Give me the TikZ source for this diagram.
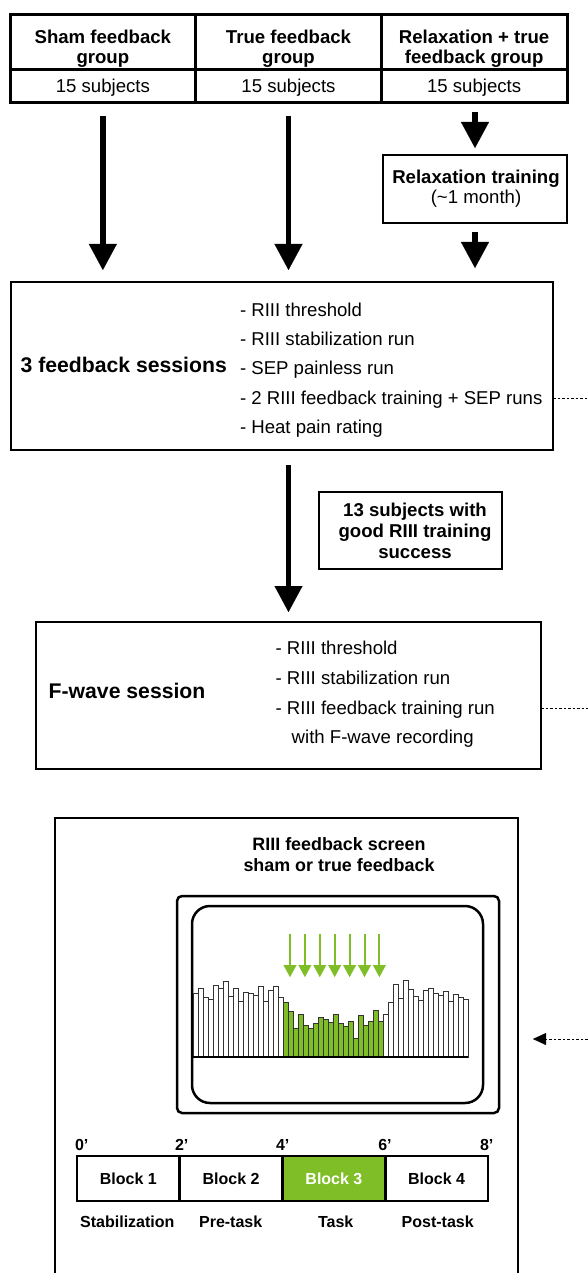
\documentclass[tikz,border=0pt]{standalone}
\usepackage{fontspec}
\setmainfont{Liberation Sans}
\usetikzlibrary{arrows.meta}
\definecolor{bargreen}{RGB}{128,190,40}
\begin{document}
\begin{tikzpicture}[x=1pt,y=-1pt,
  every node/.style={inner sep=0pt, outer sep=0pt},
  frame/.style={draw, line width=2.5pt},
  tframe/.style={draw, line width=3pt},
  tb/.style={font=\bfseries\fontsize{18.6}{21}\selectfont, anchor=base},
  tr/.style={font=\fontsize{18.6}{21}\selectfont, anchor=base},
  tbig/.style={font=\bfseries\fontsize{21.2}{24}\selectfont, anchor=base west},
  tlist/.style={font=\fontsize{18.6}{21}\selectfont, anchor=base west},
  tscr/.style={font=\bfseries\fontsize{17.9}{21}\selectfont, anchor=base},
  tsm/.style={font=\bfseries\fontsize{16}{19}\selectfont, anchor=base},
  blockbox/.style={draw, line width=2.5pt, minimum width=102.75pt, minimum height=45pt,
    font=\bfseries\fontsize{16}{19}\selectfont},
  bigarr/.style={line width=5.5pt, -{Triangle[length=26pt,width=28pt,line width=0.1pt]}},
  dotline/.style={line width=1pt, dash pattern=on 2.5pt off 2pt},
  garr/.style={draw=bargreen, line width=2pt, -{Triangle[length=12pt,width=13pt,line width=0.1pt]}},
  barw/.style={draw=black!80, line width=0.9pt, fill=white},
  barg/.style={draw=black!80, line width=0.9pt, fill=bargreen},
]
\useasboundingbox (0,0) rectangle (588,1273);
\clip (0,0) rectangle (588,1273);
\fill[white] (0,0) rectangle (588,1273);

% ---------- top table ----------
\node[tframe, minimum width=185.7pt, minimum height=55pt] (hS) at (102.85,42.5) {};
\node[tframe, minimum width=185.7pt, minimum height=55pt] (hT) at (288.5,42.5) {};
\node[tframe, minimum width=185.7pt, minimum height=55pt] (hR) at (474.15,42.5) {};
\node[tframe, minimum width=185.7pt, minimum height=33pt] (nS) at (102.85,86.5) {};
\node[tframe, minimum width=185.7pt, minimum height=33pt] (nT) at (288.5,86.5) {};
\node[tframe, minimum width=185.7pt, minimum height=33pt] (nR) at (474.15,86.5) {};

\node[tb] (tS1) at (102.85,43.5) {Sham feedback};
\node[tb] (tS2) at (102.85,63.5) {group};
\node[tb] (tT1) at (288.5,43.5) {True feedback};
\node[tb] (tT2) at (288.5,63.5) {group};
\node[tb] (tR1) at (474.15,43.5) {Relaxation + true};
\node[tb] (tR2) at (474.15,63.5) {feedback group};
\node[tr] (sS) at (102.85,92.5) {15 subjects};
\node[tr] (sT) at (288.5,92.5) {15 subjects};
\node[tr] (sR) at (474.15,92.5) {15 subjects};

% ---------- relaxation training ----------
\node[frame, minimum width=184pt, minimum height=68pt] (rx) at (475,189) {};
\node[tb] (rx1) at (476,183.5) {Relaxation training};
\node[tr] (rx2) at (476,203.5) {(\textasciitilde 1 month)};

% ---------- 3 feedback sessions ----------
\node[frame, minimum width=542pt, minimum height=168pt] (fb) at (282,366) {};
\node[tbig] (fbt) at (20.6,372.5) {3 feedback sessions};
\node[tlist] (fb1) at (240,316.6) {- RIII threshold};
\node[tlist] (fb2) at (240,345.6) {- RIII stabilization run};
\node[tlist] (fb3) at (240,374.6) {- SEP painless run};
\node[tlist] (fb4) at (240,404.6) {- 2 RIII feedback training + SEP runs};
\node[tlist] (fb5) at (240,433.6) {- Heat pain rating};

% ---------- 13 subjects ----------
\node[frame, minimum width=183pt, minimum height=77pt] (sub) at (410.5,530.5) {};
\node[tb] (sub1) at (415,516) {13 subjects with};
\node[tb] (sub2) at (415,537) {good RIII training};
\node[tb] (sub3) at (415,558) {success};

% ---------- F-wave session ----------
\node[frame, minimum width=505pt, minimum height=147pt] (fw) at (288.5,695.5) {};
\node[tbig] (fwt) at (48.7,698.5) {F-wave session};
\node[tlist] (fw1) at (275.6,654.6) {- RIII threshold};
\node[tlist] (fw2) at (275.6,684.6) {- RIII stabilization run};
\node[tlist] (fw3) at (275.6,714.6) {- RIII feedback training run};
\node[tlist] (fw4) at (291.7,743.6) {with F-wave recording};

% ---------- big arrows ----------
\draw[bigarr, shorten <=13pt, shorten >=12pt] (nS.south) -- (nS.south |- fb.north);
\draw[bigarr, shorten <=13pt, shorten >=12pt] (nT.south) -- (nT.south |- fb.north);
\draw[bigarr, shorten <=9pt, shorten >=7pt] (rx.north |- nR.south) -- (rx.north);
\draw[bigarr, shorten <=9pt, shorten >=14pt] (rx.south) -- (rx.south |- fb.north);
\draw[bigarr, shorten <=15pt, shorten >=10pt] (fb.south -| nT.south) -- (fw.north -| nT.south);

% ---------- feedback screen panel ----------
\node[frame, minimum width=463pt, minimum height=482pt] (bigbox) at (286.5,1059) {};
\node[tscr] (scr1) at (339,850.5) {RIII feedback screen};
\node[tscr] (scr2) at (339,871.4) {sham or true feedback};
\node[frame, rounded corners=5pt, minimum width=322pt, minimum height=217pt] (scrO) at (338,1004.5) {};
\node[frame, rounded corners=18pt, minimum width=291pt, minimum height=197pt] (scrI) at (337.5,1004.5) {};

% bars
\foreach \h [count=\i from 0] in {64,69,60,58,72,69,76,61,69,56,65,64,62,71,56,67,71,60}
  \draw[barw] ({193+5*\i},1057) rectangle ++(5,-\h);
\foreach \h [count=\i from 18] in {55,46,29,43,32,29,34,40,38,35,43,34,31,36,19,42,32,36,47,36}
  \draw[barg] ({193+5*\i},1057) rectangle ++(5,-\h);
\foreach \h [count=\i from 38] in {43,55,73,59,77,68,61,57,67,69,64,62,66,56,63,60,58}
  \draw[barw] ({193+5*\i},1057) rectangle ++(5,-\h);
\draw[line width=1.2pt] (192,1057) -- (468,1057);

% green arrows
\foreach \k in {0,...,6}
  \draw[garr] ({290+14.9*\k},934) -- ({290+14.9*\k},977);

% timeline
\node[tsm] (t0) at (81.7,1150.7) {0’};
\node[tsm] (t2) at (181.7,1150.7) {2’};
\node[tsm] (t4) at (282.7,1150.7) {4’};
\node[tsm] (t6) at (385,1150.7) {6’};
\node[tsm] (t8) at (486.7,1150.7) {8’};
\node[blockbox] (b1) at (128.4,1178.5) {Block 1};
\node[blockbox] (b2) at (231.1,1178.5) {Block 2};
\node[blockbox, fill=bargreen, text=white] (b3) at (333.9,1178.5) {Block 3};
\node[blockbox] (b4) at (436.6,1178.5) {Block 4};
\node[tsm] (l1) at (127.3,1227.7) {Stabilization};
\node[tsm] (l2) at (230.7,1227.7) {Pre-task};
\node[tsm] (l3) at (335.7,1227.7) {Task};
\node[tsm] (l4) at (437.7,1227.7) {Post-task};

% ---------- dotted links at the right edge ----------
\coordinate (r1) at (592,398);
\coordinate (r2) at (592,708);
\coordinate (r3) at (592,1039);
\draw[dotline] (r1 -| fb.east) -- (r1);
\draw[dotline] (r2 -| fw.east) -- (r2);
\draw[dotline, -{Triangle[length=13pt,width=12pt,line width=0.1pt]}, shorten >=15pt] (r3) -- (r3 -| bigbox.east);
\end{tikzpicture}
\end{document}
